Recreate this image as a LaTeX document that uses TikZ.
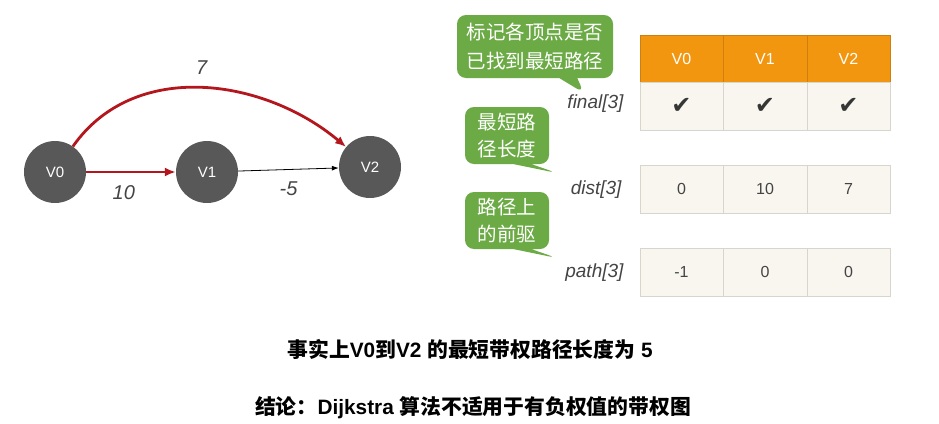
\documentclass[tikz,border=0pt]{standalone}
\usepackage{fontspec}
\setmainfont{Liberation Sans}
\newfontfamily\cjk{Noto Sans CJK SC}
\newfontfamily\symb{DejaVu Sans}
\usetikzlibrary{arrows.meta, positioning, shapes.callouts}
\definecolor{vgray}{HTML}{585858}
\definecolor{ered}{HTML}{B3171D}
\definecolor{bgreen}{HTML}{6BAA45}
\definecolor{horange}{HTML}{F2960F}
\definecolor{cellbg}{HTML}{F8F6EE}
\definecolor{cellline}{HTML}{D6D6CC}
\definecolor{ltext}{HTML}{444444}
\tikzset{
  vnode/.style={circle, fill=vgray, text=white, minimum size=62pt,
                font=\fontsize{15}{18}\selectfont},
  redarr/.style={-{Latex[length=11pt,width=9pt]}, line width=2.8pt, ered},
  blkarr/.style={-{Latex[length=7pt,width=5pt]}, line width=0.8pt, black},
  wlabel/.style={font=\fontsize{20}{24}\selectfont\itshape, text=ltext},
  hcell/.style={draw=horange!85!black, fill=horange, text=white, inner sep=0pt,
                minimum width=83.5pt, minimum height=47pt, font=\fontsize{16}{18}\selectfont},
  cell/.style={draw=cellline, fill=cellbg, text=ltext, inner sep=0pt,
               minimum width=83.5pt, minimum height=48pt, font=\fontsize{16}{18}\selectfont},
  bubble/.style={rectangle callout, fill=bgreen, text=white, rounded corners=9pt,
                 callout pointer width=18pt, align=center, inner sep=0pt},
  alabel/.style={font=\fontsize{19}{22}\selectfont\itshape, text=ltext, anchor=east},
  summary/.style={font=\bfseries\fontsize{20.8}{24}\selectfont},
}

\begin{document}
\begin{tikzpicture}[x=1pt, y=1pt]
  \useasboundingbox (0,0) rectangle (939,-423);

  \node[vnode] (v0) at (55,-172) {V0};
  \node[vnode] (v1) at (207,-172) {V1};
  \node[vnode] (v2) at (370,-167) {V2};
  \draw[redarr] (v0) -- node[wlabel, below=9pt, pos=.42] (w01) {10} (v1);
  \draw[blkarr] (v1) -- node[wlabel, below=9pt] (w12) {-5} (v2);
  \draw[redarr] (v0) to[out=55, in=140] node[wlabel, above=9pt] (w02) {7} (v2);

  \foreach \v [count=\i from 0] in {V0,V1,V2} {
    \node[hcell] (h\i) at (681.5+83.5*\i,-58.5) {\v};
    \node[cell, below=0pt of h\i] (f\i) {\symb\fontsize{24}{26}\selectfont\color{ltext!80!black}✔};
  }
  \foreach \d/\p [count=\i from 0] in {0/-1,10/0,7/0} {
    \node[cell] (d\i) at (681.5+83.5*\i,-189) {\d};
    \node[cell] (p\i) at (681.5+83.5*\i,-272) {\p};
  }

  \node[alabel] (lf) at (627,-104) {final[3]};
  \node[alabel] (ld) at (625,-190) {dist[3]};
  \node[alabel] (lp) at (627,-273) {path[3]};

  \node[bubble, minimum width=156pt, minimum height=63pt,
        callout absolute pointer={(584,-93)},
        font=\cjk\fontsize{19.5}{29}\selectfont] (b1) at (535,-46.5)
    {标记各顶点是否\\已找到最短路径};
  \node[bubble, minimum width=84pt, minimum height=57pt,
        callout absolute pointer={(557,-173)},
        font=\cjk\fontsize{19.5}{27}\selectfont] (b2) at (507,-135.5)
    {最短路\\径长度};
  \node[bubble, minimum width=84pt, minimum height=57pt,
        callout absolute pointer={(557,-258)},
        font=\cjk\fontsize{19.5}{27}\selectfont] (b3) at (507,-220.5)
    {路径上\\的前驱};

  \node[summary] (fact) at (470,-349)
    {{\cjk 事实上}V0{\cjk 到}V2 {\cjk 的最短带权路径长度为} 5};
  \node[summary] (concl) at (473,-408)
    {{\cjk 结论：}Dijkstra {\cjk 算法不适用于有负权值的带权图}};
\end{tikzpicture}
\end{document}
